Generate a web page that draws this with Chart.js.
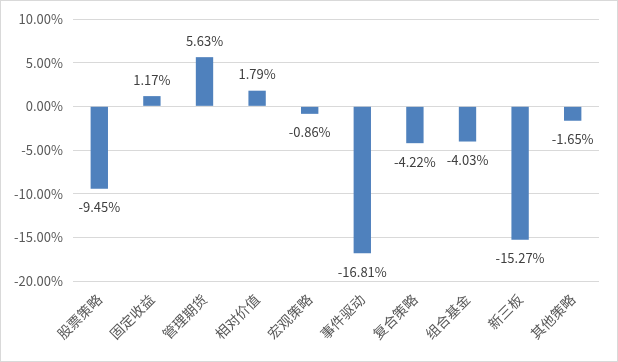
<!DOCTYPE html>
<html><head><meta charset="utf-8">
<script src="https://cdn.jsdelivr.net/npm/chart.js@4/dist/chart.umd.min.js"></script>
<style>
html,body{margin:0;padding:0;background:#fff;}
#wrap{position:absolute;left:0;top:0;width:618px;height:362px;box-sizing:border-box;border:1px solid #d9d9d9;background:#fff;}
canvas{display:block;}
</style></head>
<body>
<div id="wrap"><canvas id="c" width="616" height="360"></canvas></div>
<script>
const categories = ["股票策略","固定收益","管理期货","相对价值","宏观策略","事件驱动","复合策略","组合基金","新三板","其他策略"];
const values = [-9.45, 1.17, 5.63, 1.79, -0.86, -16.81, -4.22, -4.03, -15.27, -1.65];
const yTicks = [-20, -15, -10, -5, 0, 5, 10];

const FONT = '"Noto Sans CJK SC", "Noto Sans", sans-serif';

const labelPlugin = {
  id: 'valueLabels',
  afterDatasetsDraw(chart) {
    const ctx = chart.ctx;
    const meta = chart.getDatasetMeta(0);
    ctx.save();
    ctx.font = '13px ' + FONT;
    ctx.fillStyle = '#404040';
    ctx.textAlign = 'center';
    meta.data.forEach((bar, i) => {
      const v = values[i];
      const txt = v.toFixed(2) + '%';
      if (v >= 0) {
        ctx.textBaseline = 'bottom';
        ctx.fillText(txt, bar.x, bar.y - 10);
      } else {
        ctx.textBaseline = 'top';
        ctx.fillText(txt, bar.x, bar.y + 12);
      }
    });
    ctx.restore();
  }
};

new Chart(document.getElementById('c'), {
  type: 'bar',
  data: {
    labels: categories,
    datasets: [{
      data: values,
      backgroundColor: '#4f81bd',
      barPercentage: 0.33,
      categoryPercentage: 1.0
    }]
  },
  options: {
    responsive: false,
    animation: false,
    devicePixelRatio: 1,
    layout: { padding: { left: 0, right: 18, top: 18, bottom: 0 } },
    plugins: { legend: { display: false }, tooltip: { enabled: false } },
    scales: {
      x: {
        grid: { display: false },
        border: { display: false },
        ticks: {
          minRotation: 45, maxRotation: 45,
          color: '#595959',
          font: { family: FONT, size: 14 },
          padding: 2
        },
        afterFit(s) { s.height = 80; }
      },
      y: {
        min: -20, max: 10,
        afterBuildTicks(s) { s.ticks = yTicks.map(v => ({ value: v })); },
        grid: { color: '#d9d9d9', lineWidth: 1, drawTicks: false },
        border: { display: false },
        ticks: {
          color: '#595959',
          font: { family: FONT, size: 13 },
          padding: 10,
          callback: v => v.toFixed(2) + '%'
        },
        afterFit(s) { s.width = 72; }
      }
    }
  },
  plugins: [labelPlugin]
});
</script>
</body></html>
